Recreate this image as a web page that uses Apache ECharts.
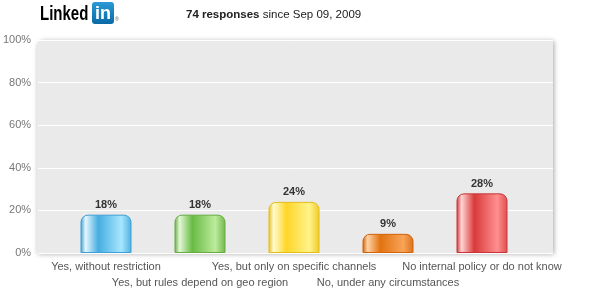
<!DOCTYPE html>
<html><head><meta charset="utf-8">
<script src="https://cdn.jsdelivr.net/npm/echarts@6/dist/echarts.min.js"></script>
<style>html,body{margin:0;padding:0;background:#fff}#c{width:591px;height:301px}</style>
</head><body><div id="c"></div>
<script>
const categories = ['Yes, without restriction','Yes, but rules depend on geo region','Yes, but only on specific channels','No, under any circumstances','No internal policy or do not know'];
const values = [18, 18, 24, 9, 28];
const yTicks = [0, 20, 40, 60, 80, 100];
const palettes = [
  ['#3d9fd3','#e4f7ff','#46ade0','#a7e6fe','#4eb0df'],
  ['#66ab44','#e4f7d6','#69bb44','#bdeb9c','#70b84c'],
  ['#e5bd17','#fffbd2','#ffd628','#fff38a','#eecb2a'],
  ['#d0620a','#ffd2a6','#e27210','#f8a458','#da7219'],
  ['#c93536','#ffd3d3','#d83a3a','#ff8f8f','#dc4e4e']
];
const grad = p => new echarts.graphic.LinearGradient(0,0,1,0,[
  {offset:0,color:p[0]},{offset:0.1,color:p[1]},{offset:0.35,color:p[2]},{offset:0.8,color:p[3]},{offset:1,color:p[4]}]);
const chart = echarts.init(document.getElementById('c'), null, {renderer:'canvas'});
chart.setOption({
  animation:false,
  graphic:[
    {type:'rect', z:-10, shape:{x:37,y:40,width:516,height:213,r:[7,0,0,0]},
     style:{fill:'#eaeaea',shadowBlur:5,shadowColor:'rgba(0,0,0,0.35)',shadowOffsetX:1,shadowOffsetY:1}},
    {type:'text', x:40, y:4, scaleX:0.75, style:{text:'Linked', font:'bold 20px "Liberation Sans", Arial, sans-serif', fill:'#000'}},
    {type:'rect', shape:{x:92,y:2,width:22,height:22,r:3}, style:{fill:new echarts.graphic.LinearGradient(0,0,0,1,[{offset:0,color:'#2a9ad6'},{offset:1,color:'#0a6aa6'}])}},
    {type:'text', x:95, y:5, style:{text:'in', font:'bold 18px "Liberation Sans", Arial, sans-serif', fill:'#fff'}},
    {type:'text', x:115, y:17, style:{text:'®', font:'5px sans-serif', fill:'#555'}},
    {type:'text', x:186, y:9, style:{
      text:'{b|74 responses} since Sep 09, 2009',
      font:'11.5px "Liberation Sans", Arial, sans-serif', fill:'#222',
      rich:{b:{font:'bold 11.5px "Liberation Sans", Arial, sans-serif', fill:'#222'}}}}
  ],
  grid:[
    {left:37, width:516, top:40, height:213},
    {left:59, width:470, top:40, height:213}
  ],
  xAxis:[
    {type:'category', gridIndex:0, data:['a'], show:false},
    {type:'category', gridIndex:1, data:categories,
     axisLine:{show:false}, axisTick:{show:false},
     axisLabel:{interval:0, margin:6, color:'#555', fontSize:11, lineHeight:16,
       fontFamily:'"Liberation Sans", Arial, sans-serif',
       formatter:(v,i)=> i%2 ? '\n'+v : v}}
  ],
  yAxis:[
    {type:'value', gridIndex:0, min:yTicks[0], max:yTicks[yTicks.length-1], interval:20,
     axisLine:{show:false}, axisTick:{show:false},
     axisLabel:{formatter:'{value}%', color:'#777', fontSize:11, margin:7, fontFamily:'"Liberation Sans", Arial, sans-serif'},
     splitLine:{lineStyle:{color:'#fff', width:1}}},
    {type:'value', gridIndex:1, min:0, max:100, show:false}
  ],
  series:[{
    type:'bar', xAxisIndex:1, yAxisIndex:1, barWidth:51,
    data: values.map((v,i)=>({value:v, itemStyle:{color:grad(palettes[i]), borderColor:palettes[i][0], borderWidth:1, borderRadius:[7,7,0,0]}})),
    label:{show:true, position:'top', distance:4, formatter:'{c}%', color:'#333', fontWeight:'bold', fontSize:11, fontFamily:'"Liberation Sans", Arial, sans-serif'}
  }]
});
</script></body></html>
